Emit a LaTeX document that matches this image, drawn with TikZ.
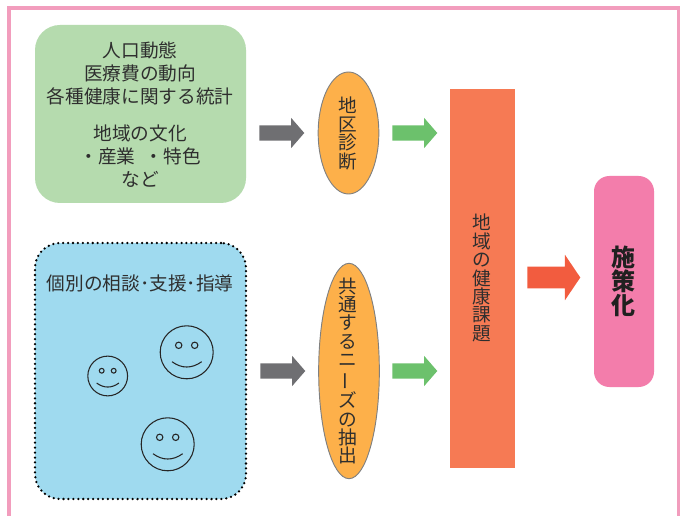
\documentclass[tikz,border=0pt]{standalone}
\usepackage{graphicx}
\usepackage{fontspec}
\setmainfont{Noto Sans CJK JP}
\usetikzlibrary{shapes.geometric,shapes.arrows}
\definecolor{framepink}{HTML}{F29DBD}
\definecolor{boxgreen}{HTML}{B5DBAE}
\definecolor{boxblue}{HTML}{9FDAEF}
\definecolor{ovalorange}{HTML}{FDB04A}
\definecolor{barorange}{HTML}{F67A54}
\definecolor{arrowred}{HTML}{F25C3F}
\definecolor{arrowgreen}{HTML}{6CC16C}
\definecolor{arrowgray}{HTML}{6F6F72}
\definecolor{boxpink}{HTML}{F37DAB}
\definecolor{inkgray}{HTML}{2E2E2E}
\tikzset{
  x=0.75pt,y=-0.75pt,
  jptext/.style={text=inkgray,inner sep=0pt,align=center,font=\fontsize{14}{17.25}\selectfont},
  vtext/.style={text=inkgray,inner sep=0pt,align=center,font=\fontsize{14}{13.8}\selectfont},
  roundbox/.style={rectangle,rounded corners=18.75pt,minimum width=158.25pt,inner sep=0pt},
  oval/.style={ellipse,draw=gray,line width=0.7pt,fill=ovalorange,minimum width=45.5pt,inner sep=0pt},
  blockarrow/.style={single arrow,draw=none,anchor=tail,inner xsep=0pt,inner ysep=5.6pt,minimum height=33.75pt,minimum width=22.5pt,
    single arrow head extend=5.6pt,single arrow tip angle=98,single arrow head indent=0pt,shape border rotate=0},
  facelines/.style={draw=black!85,line width=0.8pt},
}
\newcommand{\smiley}[3]{%
  \begin{scope}[shift={(#1,#2)},scale=#3]
    \draw[facelines] (0,0) circle[radius=26.5];
    \draw[facelines] (-8,-7) circle[radius=3.2];
    \draw[facelines] (8,-7) circle[radius=3.2];
    \draw[facelines] (-14.7,9.4) .. controls (-5,16.5) and (5,16.5) .. (15,9.4);
  \end{scope}}
\begin{document}
\begin{tikzpicture}
\clip (0,0) rectangle (680,516);
\fill[white] (0,0) rectangle (680,516);
\draw[framepink,line width=2.6pt] (9,8) rectangle (678.5,540);

\node[roundbox,fill=boxgreen,minimum height=133.5pt] (green) at (140.5,114) {};
\node[jptext] (greenA) at (140,73) {人口動態\\医療費の動向\\各種健康に関する統計};
\node[jptext] (greenB) at (140,156) {・産業\hspace{0.5em}・特色};
\node[jptext] (greenC) at (140,133) {地域の文化};
\node[jptext] (greenD) at (140,179) {など};

\node[roundbox,fill=boxblue,minimum height=192pt,draw=black,line width=1.9pt,line cap=round,dash pattern=on 0pt off 3.7pt] (blue) at (140.5,371) {};
\node[jptext] (blueT) at (140,283) {個別の相談･支援･指導};
\smiley{107.7}{376}{0.75}
\smiley{186.7}{352.3}{1}
\smiley{167.7}{444.3}{1}

\node[oval,minimum height=91.5pt] (ovalA) at (348.5,133) {};
\node[vtext] (ovalAt) at (348,133.5) {地\\区\\診\\断};
\node[oval,minimum height=161.5pt] (ovalB) at (349,371) {};
\node[vtext] (ovalBt) at (348,371) {共\\通\\す\\る\\ニ\\\rotatebox[origin=c]{90}{ー}\\ズ\\の\\抽\\出};

\node[rectangle,fill=barorange,minimum width=48.75pt,minimum height=284.25pt,inner sep=0pt] (bar) at (482.5,278.5) {};
\node[vtext] (bart) at (482,278) {地\\域\\の\\健\\康\\課\\題};

\node[rectangle,rounded corners=11.5pt,fill=boxpink,minimum width=45pt,minimum height=158.25pt,inner sep=0pt] (goal) at (624,281.5) {};
\node[inner sep=0pt,align=center,text=inkgray!70!black,font=\fontsize{18}{18}\selectfont\bfseries] (goalt) at (623,281) {施\\策\\化};

\node[blockarrow,fill=arrowgray] (a1) at (259,133) {};
\node[blockarrow,fill=arrowgray] (a2) at (260,371) {};
\node[blockarrow,fill=arrowgreen] (a3) at (392,133) {};
\node[blockarrow,fill=arrowgreen] (a4) at (392,371) {};
\node[blockarrow,fill=arrowred,minimum height=39.75pt,minimum width=33.75pt,inner ysep=7.9pt,single arrow head extend=8.9pt,single arrow tip angle=112] (a5) at (527,277.5) {};
\end{tikzpicture}
\end{document}
